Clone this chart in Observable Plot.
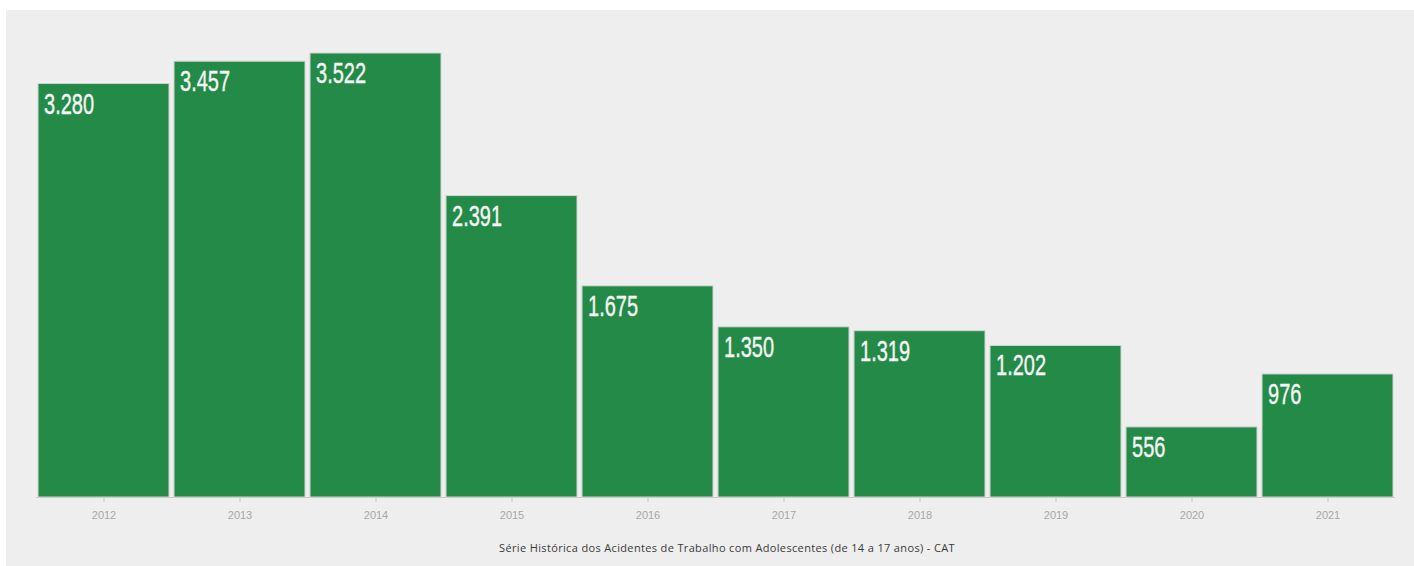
<!DOCTYPE html>
<html><head><meta charset="utf-8">
<script src="https://cdn.jsdelivr.net/npm/d3@7"></script>
<script src="https://cdn.jsdelivr.net/npm/@observablehq/plot@0.6"></script>
<style>
html,body{margin:0;padding:0;background:#fff;width:1414px;height:566px;overflow:hidden}
#panel{position:absolute;left:6px;top:10px;width:1408px;height:556px;background:#eeeeee}
#chart{position:absolute;left:0;top:0}
#caption{position:absolute;left:34px;width:1374px;top:531px;text-align:center;font:11px "Open Sans", sans-serif;letter-spacing:0.35px;color:#3a3a3a;line-height:14px}
</style></head><body>
<div id="panel"><div id="chart"></div><div id="caption">Série Histórica dos Acidentes de Trabalho com Adolescentes (de 14 a 17 anos) - CAT</div></div>
<script>
const years = ["2012","2013","2014","2015","2016","2017","2018","2019","2020","2021"];
const values = [3280, 3457, 3522, 2391, 1675, 1350, 1319, 1202, 556, 976];
const labels = ["3.280","3.457","3.522","2.391","1.675","1.350","1.319","1.202","556","976"];
const data = years.map((y, i) => ({year: y, value: values[i], label: labels[i]}));

const W = 1408, H = 530, ml = 30, mr = 19;
const pin = 0.037;

const chart = Plot.plot({
  width: W, height: H,
  marginLeft: ml, marginRight: mr, marginTop: 43, marginBottom: 43,
  style: {background: "transparent", overflow: "visible"},
  x: {domain: years, paddingInner: pin, paddingOuter: 0, label: null, axis: null},
  y: {domain: [0, 3522], axis: null},
  marks: [
    Plot.ruleY([0], {stroke: "#c8c8c8"}),
    Plot.axisX({tickSize: 5, tickPadding: 9, stroke: "#c4c4c4", fill: "#a8a8a8", fontSize: 11, fontFamily: "Liberation Sans, Arial, sans-serif", label: null}),
    Plot.barY(data, {x: "year", y: "value", fill: "#248a47", stroke: "#d2d2d2", strokeWidth: 1}),
    Plot.text(data, {x: "year", y: "value", text: "label", textAnchor: "start",
      fill: "#f4f4f4", stroke: "#f4f4f4", strokeWidth: 0.4, fontSize: 29, fontWeight: "normal", fontFamily: "Liberation Sans, Arial, sans-serif"})
  ]
});
document.getElementById("chart").appendChild(chart);

// place value labels at the top-left of each bar, horizontally condensed
const xs = chart.scale("x"), ys = chart.scale("y");
const g = chart.querySelector('g[aria-label="text"]');
if (g) {
  g.removeAttribute("transform");
  g.querySelectorAll("text").forEach((el, i) => {
    const d = data[i];
    const left = xs.apply(d.year) + 6;
    const base = ys.apply(d.value) + 30;
    el.removeAttribute("x"); el.removeAttribute("y"); el.removeAttribute("dy");
    el.setAttribute("transform", `translate(${left},${base}) scale(0.69,1)`);
  });
}
</script>
</body></html>
